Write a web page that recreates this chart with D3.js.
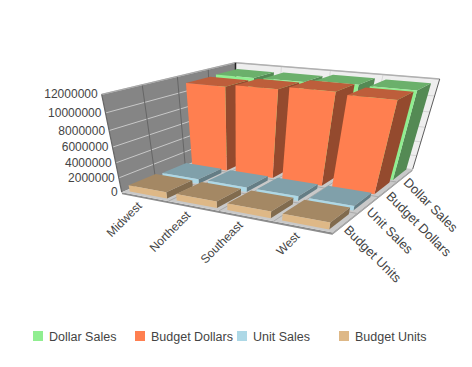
<!DOCTYPE html>
<html>
<head>
<meta charset="utf-8">
<script src="https://cdn.jsdelivr.net/npm/d3@7"></script>
<style>
    html, body { margin: 0; padding: 0; background: #fff; }
    svg { display: block; }
    text { font-family: "Liberation Sans", Arial, sans-serif; fill: #444; }
</style>
</head>
<body>
<div id="chart"></div>
<script>
const categories = ["Midwest", "Northeast", "Southeast", "West"];
// front row first
const seriesNames = ["Budget Units", "Unit Sales", "Budget Dollars", "Dollar Sales"];
const budgetUnits = [900000, 900000, 900000, 900000];
const unitSales = [650000, 650000, 650000, 650000];
const budgetDollars = [11200000, 11500000, 11850000, 11600000];
const dollarSales = [11300000, 11350000, 11600000, 11550000];
const seriesValues = [budgetUnits, unitSales, budgetDollars, dollarSales];
const seriesColors = ["#deb887", "#add8e6", "#ff7f50", "#90ee90"];
const yTicks = [0, 2000000, 4000000, 6000000, 8000000, 10000000, 12000000];
const legendOrder = ["Dollar Sales", "Budget Dollars", "Unit Sales", "Budget Units"];

const width = 472;
const height = 367;

// screen position of six corners of the plot box: [u, v, w, sx, sy]
const boxCorners = [
    [0, 0, 0, 122, 193],
    [0, 1, 0, 102, 93],
    [0, 1, 1, 235, 63],
    [1, 1, 1, 440, 80],
    [1, 0, 1, 413, 168],
    [1, 0, 0, 332, 233]
];

// fit the perspective matrix to the corners (least squares)
function fitCamera(pts) {
    const rows = [], rhs = [];
    pts.forEach(([u, v, w, x, y]) => {
        rows.push([u, v, w, 1, 0, 0, 0, 0, -x * u, -x * v, -x * w]); rhs.push(x);
        rows.push([0, 0, 0, 0, u, v, w, 1, -y * u, -y * v, -y * w]); rhs.push(y);
    });
    const n = 11;
    const m = d3.range(n).map(i => d3.range(n + 1).map(j =>
        d3.sum(rows, (r, k) => r[i] * (j < n ? r[j] : rhs[k]))));
    for (let i = 0; i < n; i++) {
        let best = i;
        for (let k = i + 1; k < n; k++) if (Math.abs(m[k][i]) > Math.abs(m[best][i])) best = k;
        [m[i], m[best]] = [m[best], m[i]];
        for (let k = 0; k < n; k++) {
            if (k === i) continue;
            const f = m[k][i] / m[i][i];
            for (let j = i; j <= n; j++) m[k][j] -= f * m[i][j];
        }
    }
    return m.map((r, i) => r[n] / r[i]);
}

const cam = fitCamera(boxCorners);
function project(u, v, w) {
    const d = cam[8] * u + cam[9] * v + cam[10] * w + 1;
    return [(cam[0] * u + cam[1] * v + cam[2] * w + cam[3]) / d,
            (cam[4] * u + cam[5] * v + cam[6] * w + cam[7]) / d];
}

const xScale = d3.scaleBand().domain(categories).range([0, 1]).paddingInner(0.2).paddingOuter(0.1);
const zScale = d3.scaleBand().domain(seriesNames).range([0, 1]).paddingInner(0.2).paddingOuter(0.1);
const yScale = d3.scaleLinear().domain([0, 12000000]).range([0, 1]);

const svg = d3.select("#chart").append("svg")
    .attr("width", width)
    .attr("height", height);

const line = d3.line();
function face(g, corners, fill, stroke, sw) {
    return g.append("path")
        .attr("d", line(corners.map(c => project(c[0], c[1], c[2]))) + "Z")
        .attr("fill", fill)
        .attr("stroke", stroke || "none")
        .attr("stroke-width", sw || 0)
        .attr("stroke-linejoin", "round");
}
function seg(g, a, b, color, sw) {
    g.append("path")
        .attr("d", line([project(...a), project(...b)]))
        .attr("stroke", color)
        .attr("stroke-width", sw)
        .attr("fill", "none");
}

// walls and floor
const box = svg.append("g");
const base = -0.025;
face(box, [[0, 1, 1], [1, 1, 1], [1, 0, 1], [0, 0, 1]], "#eeeeee");
face(box, [[0, 1, 0], [0, 1, 1], [0, 0, 1], [0, 0, 0]], "#858585");
face(box, [[0, base, 0], [1, base, 0], [1, base, 1], [1, 0, 1], [1, 0, 0], [0, 0, 0]], "#8c8c8c");
face(box, [[0, 0, 0], [1, 0, 0], [1, 0, 1], [0, 0, 1]], "#c9c9c9");
face(box, [[1, base, 0], [1, base, 1], [1, 0, 1], [1, 0, 0]], "#a8a8a8");

yTicks.slice(1).forEach(t => {
    const v = yScale(t);
    seg(box, [0, v, 0], [0, v, 1], "#c8c8c8", 1);
    seg(box, [0, v, 1], [1, v, 1], "#d4d4d4", 1);
});
d3.range(1, seriesNames.length).forEach(i => {
    const w = i / seriesNames.length;
    seg(box, [0, 0, w], [0, 1, w], "#666666", 1);
    seg(box, [0, 0, w], [1, 0, w], "#aaaaaa", 1);
});
d3.range(1, categories.length).forEach(i => {
    const u = i / categories.length;
    seg(box, [u, 0, 1], [u, 1, 1], "#d8d8d8", 1);
    seg(box, [u, 0, 0], [u, 0, 1], "#aaaaaa", 1);
});
seg(box, [0, 1, 0], [0, 1, 1], "#a8a8a8", 1.2);
seg(box, [0, 1, 1], [1, 1, 1], "#b0b0b0", 1.5);
seg(box, [0, 1, 1], [0, 0, 1], "#222222", 1.5);
seg(box, [1, 1, 1], [1, 0, 1], "#333333", 0.8);
seg(box, [0, 0, 0], [0, 1, 0], "#666666", 1.2);

// bars, back row first, left to right
const bars = svg.append("g");
const shade = (c, k) => {
    const r = d3.rgb(c);
    return d3.rgb(r.r * k, r.g * k, r.b * k).formatHex();
};
d3.range(seriesNames.length - 1, -1, -1).forEach(s => {
    const z0 = zScale(seriesNames[s]), z1 = z0 + zScale.bandwidth();
    categories.forEach((cat, i) => {
        const x0 = xScale(cat), x1 = x0 + xScale.bandwidth();
        const h = yScale(seriesValues[s][i]);
        const color = seriesColors[s];
        face(bars, [[x1, 0, z0], [x1, 0, z1], [x1, h, z1], [x1, h, z0]], shade(color, 0.58));
        face(bars, [[x0, h, z0], [x1, h, z0], [x1, h, z1], [x0, h, z1]], shade(color, 0.74));
        face(bars, [[x0, 0, z0], [x1, 0, z0], [x1, h, z0], [x0, h, z0]], color);
    });
});

// value axis labels
svg.append("g").selectAll("text")
    .data(yTicks)
    .enter().append("text")
    .attr("x", d => project(0, yScale(d), 0)[0] - 4)
    .attr("y", d => project(0, yScale(d), 0)[1] + 4)
    .attr("text-anchor", "end")
    .style("font-size", "12px")
    .text(d => d);

// category labels
svg.append("g").selectAll("text")
    .data(categories)
    .enter().append("text")
    .attr("transform", d => {
        const p = project(xScale(d) + xScale.bandwidth() / 2, 0, 0);
        return `translate(${p[0] - 2}, ${p[1] + 10}) rotate(-45)`;
    })
    .attr("text-anchor", "end")
    .style("font-size", "12px")
    .text(d => d);

// series labels
svg.append("g").selectAll("text")
    .data(seriesNames)
    .enter().append("text")
    .attr("transform", d => {
        const p = project(1, 0, zScale(d) + zScale.bandwidth() / 2);
        return `translate(${p[0] - 2}, ${p[1] + 8}) rotate(45)`;
    })
    .style("font-size", "13px")
    .text(d => d);

// legend
const legendX = d3.scalePoint().domain(legendOrder).range([33, 339]);
const legend = svg.append("g").selectAll("g")
    .data(legendOrder)
    .enter().append("g")
    .attr("transform", d => `translate(${legendX(d)}, 331)`);
legend.append("rect")
    .attr("width", 10)
    .attr("height", 10)
    .attr("fill", d => seriesColors[seriesNames.indexOf(d)]);
legend.append("text")
    .attr("x", 16)
    .attr("y", 10)
    .style("font-size", "12.5px")
    .text(d => d);
</script>
</body>
</html>
